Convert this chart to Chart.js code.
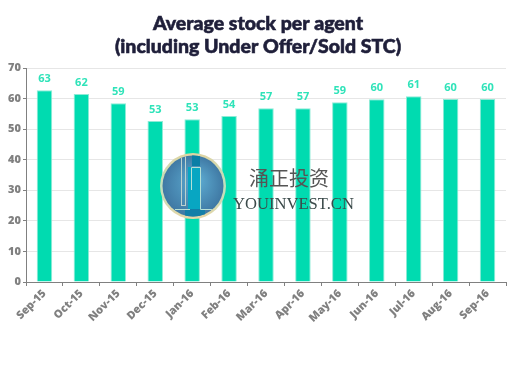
<!DOCTYPE html>
<html>
<head>
<meta charset="utf-8">
<style>
  html, body { margin: 0; padding: 0; background: #fff; }
  #wrap { width: 524px; height: 373px; }
</style>
<script src="https://cdn.jsdelivr.net/npm/chart.js@4/dist/chart.umd.min.js"></script>
</head>
<body>
<div id="wrap"><canvas id="stockChart" width="524" height="373"></canvas></div>
<script>
const months = ["Sep-15", "Oct-15", "Nov-15", "Dec-15", "Jan-16", "Feb-16", "Mar-16", "Apr-16", "May-16", "Jun-16", "Jul-16", "Aug-16", "Sep-16"];
const stockPerAgent = [62.7, 61.5, 58.5, 52.7, 53.2, 54.3, 56.8, 56.8, 58.8, 59.8, 60.8, 59.9, 59.9];
const titleLines = ["Average stock per agent", "(including Under Offer/Sold STC)"];

// Title drawn by hand: the reference is heavier than the installed Lato bold
const heavyTitlePlugin = {
  id: "heavyTitlePlugin",
  afterDraw(chart) {
    const { ctx } = chart;
    ctx.save();
    ctx.font = "900 19.5px Lato";
    ctx.fillStyle = "#1f1f3a";
    ctx.strokeStyle = "#1f1f3a";
    ctx.lineWidth = 0.6;
    ctx.textAlign = "center";
    ctx.textBaseline = "middle";
    titleLines.forEach((line, i) => {
      ctx.fillText(line, 258, 24 + i * 23);
      ctx.strokeText(line, 258, 24 + i * 23);
    });
    ctx.restore();
  }
};

// Rounded value above each bar
const barLabelPlugin = {
  id: "barLabelPlugin",
  afterDatasetsDraw(chart) {
    const { ctx } = chart;
    ctx.save();
    ctx.font = "bold 11px 'Open Sans'";
    ctx.fillStyle = "#2fe3b9";
    ctx.textAlign = "center";
    ctx.textBaseline = "bottom";
    chart.getDatasetMeta(0).data.forEach((bar, i) => {
      ctx.fillText(Math.round(stockPerAgent[i]), bar.x, bar.y - 6);
    });
    ctx.restore();
  }
};

// Logo and site name laid over the chart
const watermarkPlugin = {
  id: "watermarkPlugin",
  afterDraw(chart) {
    const { ctx } = chart;
    const cx = 193, cy = 186, r = 33;
    ctx.save();
    const ring = ctx.createLinearGradient(cx, cy - r, cx, cy + r);
    ring.addColorStop(0, "#e0d4a2");
    ring.addColorStop(0.5, "#bfe0c0");
    ring.addColorStop(1, "#e6d6a6");
    ctx.beginPath();
    ctx.arc(cx, cy, r, 0, Math.PI * 2);
    ctx.fillStyle = ring;
    ctx.fill();
    const disc = ctx.createRadialGradient(cx + 4, cy - 6, 3, cx, cy, r - 2);
    disc.addColorStop(0, "#5ba8ce");
    disc.addColorStop(1, "#3f78a3");
    ctx.beginPath();
    ctx.arc(cx, cy, r - 2.5, 0, Math.PI * 2);
    ctx.fillStyle = disc;
    ctx.fill();
    ctx.clip();
    // the "ji" shape inside the disc
    ctx.fillStyle = "#0b7ea6";
    ctx.fillRect(192, 154, 8, 12);
    ctx.fillStyle = "#08a6c2";
    ctx.fillRect(188, 167, 12, 42);
    ctx.fillStyle = "#127fa8";
    ctx.fillRect(185, 209, 20, 10);
    ctx.strokeStyle = "#bcd2cf";
    ctx.lineWidth = 1;
    ctx.strokeRect(181.5, 156.5, 4, 49);
    ctx.strokeStyle = "#b5dfd6";
    ctx.beginPath();
    ctx.moveTo(191.5, 190);
    ctx.lineTo(191.5, 167.5);
    ctx.lineTo(200.5, 167.5);
    ctx.lineTo(200.5, 209.5);
    ctx.lineTo(212, 209.5);
    ctx.moveTo(175, 209.5);
    ctx.lineTo(190, 209.5);
    ctx.stroke();
    ctx.restore();
    ctx.save();
    ctx.textAlign = "left";
    ctx.textBaseline = "alphabetic";
    ctx.fillStyle = "#555555";
    ctx.font = "20px 'Noto Sans CJK SC'";
    ctx.fillText("涌正投资", 249, 186);
    ctx.fillStyle = "#3b4a4a";
    ctx.font = "16.6px 'Liberation Serif'";
    ctx.fillText("YOUINVEST.CN", 233, 209);
    ctx.restore();
  }
};

new Chart(document.getElementById("stockChart"), {
  type: "bar",
  data: {
    labels: months,
    datasets: [{
      data: stockPerAgent,
      backgroundColor: "#00dbb0",
      borderColor: "#8debd6",
      borderWidth: 1,
      barPercentage: 0.42,
      categoryPercentage: 1
    }]
  },
  options: {
    responsive: false,
    animation: false,
    layout: { padding: { left: 0, right: 18, top: 68, bottom: 0 } },
    plugins: {
      legend: { display: false },
      tooltip: { enabled: false }
    },
    scales: {
      y: {
        min: 0,
        max: 70,
        afterFit(scale) { scale.width = 26; },
        border: { color: "#808080", width: 1 },
        grid: { color: "#e6e6e6", tickColor: "#808080", tickLength: 3 },
        ticks: { stepSize: 10, padding: 2, color: "#808080", font: { family: "Open Sans", size: 11, weight: "800" } }
      },
      x: {
        afterFit(scale) { scale.height = 91; },
        border: { color: "#808080", width: 1 },
        grid: { display: true, drawOnChartArea: false, offset: true, color: "#808080", tickLength: 4 },
        ticks: { maxRotation: 45, minRotation: 45, padding: 1, color: "#808080", font: { family: "Open Sans", size: 11, weight: "800" } }
      }
    }
  },
  plugins: [heavyTitlePlugin, barLabelPlugin, watermarkPlugin]
});
</script>
</body>
</html>
